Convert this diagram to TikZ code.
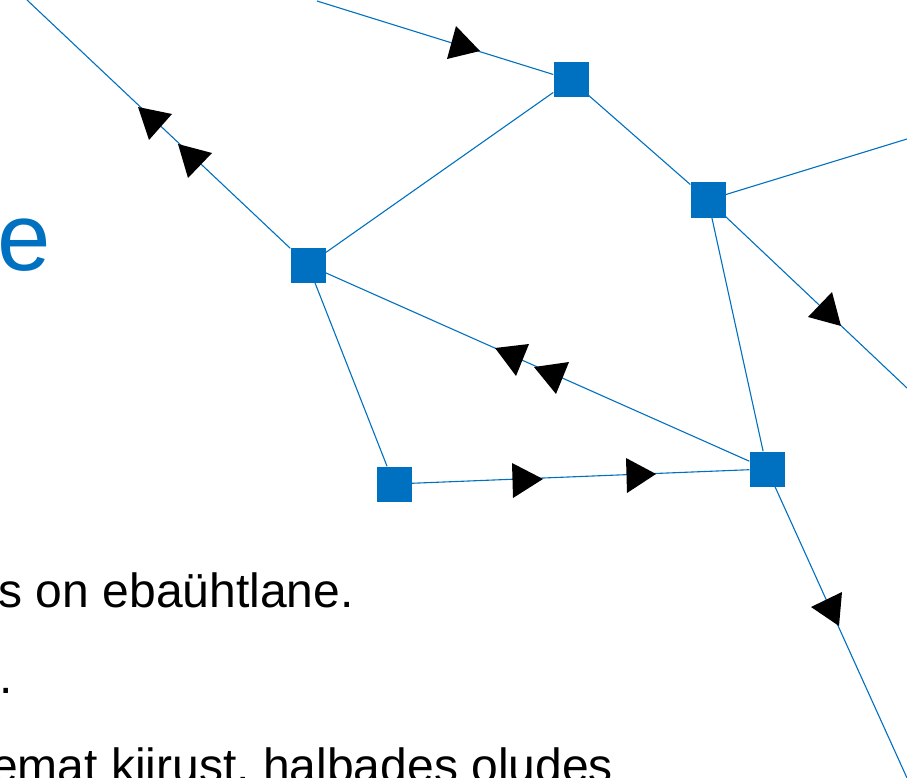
\documentclass[tikz,border=0pt]{standalone}
\usepackage{fontspec}
\setmainfont{Liberation Sans}
\usetikzlibrary{calc}

\definecolor{netblue}{RGB}{0,112,192}

\begin{document}
\begin{tikzpicture}[x=1pt,y=-1pt]

% frame of the slide crop
\useasboundingbox (0,0) rectangle (907,778);
\clip (0,0) rectangle (907,778);

% Junction
\tikzstyle{junction}=[fill=netblue,draw=none,inner sep=0pt,minimum size=35pt]
% Road
\tikzstyle{road}=[netblue,line width=1.1pt]
% Flow
\tikzstyle{flow}=[fill=black,draw=none]

%%%%%%%%%%%%%%%%%%%%%%%%%%%%%%%%%%%%%%%%%%%%%%%%%%%%%%%%%%%%%%%55
%
%       Slide text
%
\node (title) [anchor=base east,inner sep=0pt,text=netblue,font=\fontsize{96}{96}\selectfont] at (51,270) {e};
\node (line1) [anchor=base west,inner sep=0pt,font=\fontsize{48}{48}\selectfont] at (-1.5,607) {s on ebaühtlane.};
\node (line2) [anchor=base west,inner sep=0pt,font=\fontsize{48}{48}\selectfont] at (-1,693) {.};
\node (line3) [anchor=base west,inner sep=0pt,font=\fontsize{48}{48}\selectfont] at (-9,782) {emat kiirust, halbades oludes};

%%%%%%%%%%%%%%%%%%%%%%%%%%%%%%%%%%%%%%%%%%%%%%%%%%%%%%%%%%%%%%%%%%%%
%
%        Junctions
%
\node (J1) [junction] at (308,265) {};
\node (J2) [junction] at (571,80)  {};
\node (J3) [junction] at (708,200) {};
\node (J4) [junction] at (767,469) {};
\node (J5) [junction] at (394,484) {};

% free ends
\coordinate (E1) at (27,0);
\coordinate (E2) at (317,1);
\coordinate (E3) at (907,139);
\coordinate (E4) at (907,388);
\coordinate (E5) at (907,778);

%%%%%%%%%%%%%%%%%%%%%%%%%%%%%%%%%%%%%%%%%%%%%%%%%%%%%%%%%%%%%%
%
%        Roads
%
\draw[road] (E1) -- (J1);
\draw[road] (E2) -- (J2);
\draw[road] (J1) -- (J2);
\draw[road] (J2) -- (J3);
\draw[road] (J3) -- (E3);
\draw[road] (J3) -- (E4);
\draw[road] (J3) -- (J4);
\draw[road] (J1) -- (J5);
\draw[road] (J1) -- (J4);
\draw[road] (J5) -- (J4);
\draw[road] (J4) -- (E5);

%%%%%%%%%%%%%%%%%%%5
%  flow arrows
\fill[flow] (480,51)  -- (456,26)  -- (447,59)  -- cycle;
\fill[flow] (138,107) -- (172,114) -- (149,140) -- cycle;
\fill[flow] (178,144) -- (212,153) -- (188,178) -- cycle;
\fill[flow] (495,348) -- (529,344) -- (516,376) -- cycle;
\fill[flow] (534,367) -- (569,362) -- (556,394) -- cycle;
\fill[flow] (543,479) -- (512,463) -- (513,498) -- cycle;
\fill[flow] (656,474) -- (626,458) -- (627,493) -- cycle;
\fill[flow] (841,326) -- (832,292) -- (808,317) -- cycle;
\fill[flow] (811,607) -- (842,592) -- (839,626) -- cycle;

\end{tikzpicture}
\end{document}
